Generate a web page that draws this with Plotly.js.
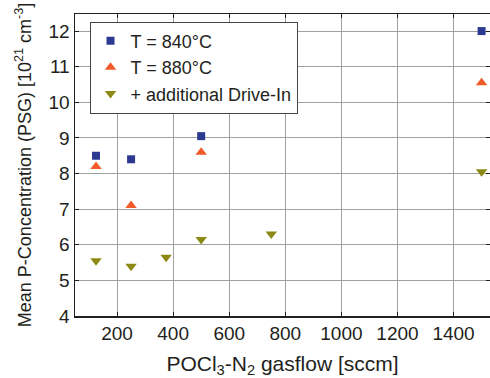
<!DOCTYPE html>
<html>
<head>
<meta charset="utf-8">
<script src="https://cdn.plot.ly/plotly-3.0.1.min.js"></script>
<style>html,body{margin:0;padding:0;overflow:hidden;background:#fff}</style>
</head>
<body>
<div id="chart" style="width:490px;height:378px"></div>
<script>
const x840 = [125, 250, 500, 1500];
const y840 = [8.5, 8.4, 9.05, 12.0];
const x880 = [125, 250, 500, 1500];
const y880 = [8.2, 7.1, 8.6, 10.55];
const xDrive = [125, 250, 375, 500, 750, 1500];
const yDrive = [5.55, 5.4, 5.65, 6.15, 6.3, 8.05];
const names = ['T = 840°C', 'T = 880°C', '+ additional Drive-In'];
const xTicks = [200, 400, 600, 800, 1000, 1200, 1400];
const yTicks = [4, 5, 6, 7, 8, 9, 10, 11, 12];

const font = 'Liberation Sans, Arial, sans-serif';
const traces = [
  {x: x840, y: y840, name: names[0], mode: 'markers', type: 'scatter',
   marker: {symbol: 'square', size: 8, color: '#2b3990'}},
  {x: x880, y: y880, name: names[1], mode: 'markers', type: 'scatter',
   marker: {symbol: 'triangle-up', size: 10, color: '#f15a29'}},
  {x: xDrive, y: yDrive, name: names[2], mode: 'markers', type: 'scatter',
   marker: {symbol: 'triangle-down', size: 10, color: '#8c8a14'}}
];
const layout = {
  width: 490, height: 378,
  margin: {l: 75, r: 0, t: 14, b: 62},
  paper_bgcolor: '#fff', plot_bgcolor: '#fff',
  font: {family: font, size: 19, color: '#231f20'},
  showlegend: true,
  legend: {x: 0.035, y: 0.975, xanchor: 'left', yanchor: 'top',
    bgcolor: '#fff', bordercolor: '#444', borderwidth: 1,
    font: {family: font, size: 18, color: '#231f20'}, tracegroupgap: 0, itemwidth: 30},
  xaxis: {range: [50, 1530], tickvals: xTicks, ticktext: xTicks.map(String),
    showgrid: true, gridcolor: '#a0a0a0', gridwidth: 1,
    showline: true, linecolor: '#231f20', linewidth: 1.5, mirror: 'ticks',
    ticks: 'inside', ticklen: 4, tickcolor: '#231f20', zeroline: false,
    tickfont: {size: 19}, automargin: false,
    title: {text: 'POCl<sub>3</sub>-N<sub>2</sub> gasflow [sccm]', font: {size: 21}, standoff: 17}},
  yaxis: {range: [4, 12.48], tickvals: yTicks, ticktext: yTicks.map(String),
    showgrid: true, gridcolor: '#a0a0a0', gridwidth: 1,
    showline: true, linecolor: '#231f20', linewidth: 1.5, mirror: 'ticks',
    ticks: 'inside', ticklen: 4, tickcolor: '#231f20', zeroline: false,
    tickfont: {size: 19}, automargin: false,
    title: {text: 'Mean P-Concentration (PSG) [10<sup>21</sup> cm<sup>-3</sup>]', font: {size: 18}, standoff: 12}}
};
Plotly.newPlot('chart', traces, layout, {displayModeBar: false, staticPlot: true});
</script>
</body>
</html>
